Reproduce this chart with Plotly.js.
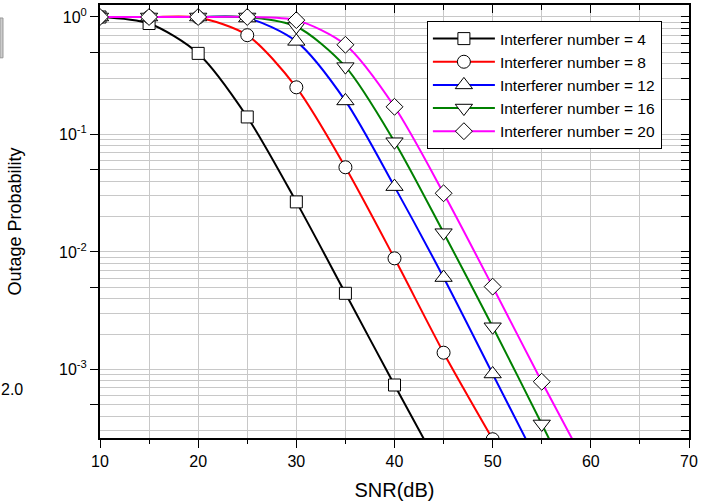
<!DOCTYPE html>
<html>
<head>
<meta charset="utf-8">
<script src="https://cdn.plot.ly/plotly-3.0.1.min.js"></script>
<style>html,body{margin:0;padding:0;background:#fff;}#chart{width:710px;height:503px;}</style>
</head>
<body>
<div id="chart"></div>
<script>
// SNR (dB) sample points (markers every 5 dB)
const snr = [10, 15, 20, 25, 30, 35, 40, 45, 50, 55, 60];

// Outage probability (last value of a series lies just below the visible axis)
const n4  = [1.0, 0.88, 0.49, 0.141, 0.0267, 0.00445, 7.38e-4, 1.26e-4];
const n8  = [1.0, 1.0, 0.99, 0.70, 0.252, 0.0526, 0.00883, 0.00139, 2.55e-4];
const n12 = [1.0, 1.0, 1.0, 0.98, 0.62, 0.193, 0.036, 0.00606, 9.16e-4, 1.39e-4];
const n16 = [1.0, 1.0, 1.0, 1.0, 0.83, 0.378, 0.0868, 0.0146, 0.00231, 3.44e-4, 4.9e-5];
const n20 = [1.0, 1.0, 1.0, 1.0, 0.94, 0.58, 0.172, 0.0316, 0.00507, 7.87e-4, 1.29e-4];

const seriesNames = ['Interferer number = 4', 'Interferer number = 8', 'Interferer number = 12',
                     'Interferer number = 16', 'Interferer number = 20'];
const seriesColors = ['#000000', '#ff0000', '#0000ff', '#008000', '#ff00ff'];
const seriesSymbols = ['square', 'circle', 'triangle-up', 'triangle-down', 'diamond'];
const seriesSizes = [12, 13, 15, 15, 13];
const seriesData = [n4, n8, n12, n16, n20];

// axis tick labels
const xTickVals = [10, 20, 30, 40, 50, 60, 70];
const yMajorVals = [5e-4, 1e-3, 5e-3, 1e-2, 5e-2, 1e-1, 5e-1, 1];
const yMajorText = ['', '10<sup>-3</sup>', '', '10<sup>-2</sup>', '', '10<sup>-1</sup>', '', '10<sup>0</sup>'];
const yMinorVals = [3e-4, 4e-4, 6e-4, 7e-4, 8e-4, 9e-4,
  2e-3, 3e-3, 4e-3, 6e-3, 7e-3, 8e-3, 9e-3,
  2e-2, 3e-2, 4e-2, 6e-2, 7e-2, 8e-2, 9e-2,
  2e-1, 3e-1, 4e-1, 6e-1, 7e-1, 8e-1, 9e-1];
const yRightVals = yMajorVals.concat(yMinorVals);

const FONT = 'Liberation Sans, Arial, sans-serif';
const yRange = [-3.583, 0.102];

const traces = seriesData.map((vals, i) => ({
  x: snr.slice(0, vals.length),
  y: vals,
  name: seriesNames[i],
  type: 'scatter',
  mode: 'lines+markers',
  line: {color: seriesColors[i], width: 2, shape: 'spline', smoothing: 0.8},
  marker: {symbol: seriesSymbols[i], size: seriesSizes[i], color: '#ffffff',
           line: {color: '#000000', width: 1}}
}));

traces.push({x: [], y: [], xaxis: 'x2', yaxis: 'y2', showlegend: false, hoverinfo: 'skip', type: 'scatter', mode: 'markers'});

const layout = {
  width: 710, height: 503,
  margin: {l: 100, r: 21, t: 5, b: 65},
  paper_bgcolor: '#ffffff', plot_bgcolor: '#ffffff',
  font: {family: FONT, size: 16, color: '#000'},
  showlegend: true,
  legend: {
    x: 0.555, y: 0.963, xanchor: 'left', yanchor: 'top',
    bgcolor: '#ffffff', bordercolor: '#000000', borderwidth: 1,
    font: {family: FONT, size: 15.5, color: '#000'},
    itemwidth: 62, tracegroupgap: 0
  },
  xaxis: {
    range: [10, 70], tickmode: 'array', tickvals: xTickVals,
    ticks: 'outside', ticklen: 8, tickwidth: 1, tickcolor: '#000',
    showline: true, linecolor: '#000', linewidth: 2, mirror: true,
    showgrid: true, gridcolor: '#c8c8c8', gridwidth: 1, zeroline: false,
    minor: {dtick: 5, tick0: 10, ticks: 'outside', ticklen: 4, tickcolor: '#000', showgrid: true, gridcolor: '#c8c8c8', gridwidth: 1},
    tickfont: {family: FONT, size: 16},
    title: {text: 'SNR(dB)', font: {family: FONT, size: 20}, standoff: 14}
  },
  yaxis: {
    type: 'log', range: yRange, tickmode: 'array', tickvals: yMajorVals, ticktext: yMajorText,
    ticks: 'outside', ticklen: 8, tickwidth: 1, tickcolor: '#000',
    showline: true, linecolor: '#000', linewidth: 2, mirror: true,
    showgrid: true, gridcolor: '#c8c8c8', gridwidth: 1, zeroline: false,
    minor: {tickmode: 'array', tickvals: yMinorVals, ticks: '', showgrid: true, gridcolor: '#c8c8c8', gridwidth: 1},
    tickfont: {family: FONT, size: 16},
    title: {text: 'Outage Probability', font: {family: FONT, size: 18}, standoff: 33}
  },
  xaxis2: {
    overlaying: 'x', side: 'top', range: [10, 70], tickmode: 'array', tickvals: xTickVals,
    ticks: 'inside', ticklen: 8, tickcolor: '#000', showticklabels: false, showgrid: false,
    showline: false, zeroline: false,
    minor: {dtick: 5, tick0: 10, ticks: 'inside', ticklen: 5, tickcolor: '#000', showgrid: false}
  },
  yaxis2: {
    overlaying: 'y', side: 'right', type: 'log', range: yRange, tickmode: 'array', tickvals: yRightVals,
    ticks: 'inside', ticklen: 8, tickcolor: '#000', showticklabels: false, showgrid: false,
    showline: false, zeroline: false
  },
  annotations: [{
    xref: 'paper', yref: 'paper', x: -0.149, y: 0.111, xanchor: 'center', yanchor: 'middle',
    text: '2.0', showarrow: false, font: {family: FONT, size: 16, color: '#000'}
  }],
  shapes: [{
    type: 'rect', xref: 'paper', yref: 'paper', x0: -0.1698, x1: -0.1647, y0: 0.878, y1: 0.970,
    line: {color: '#999999', width: 1}, fillcolor: '#cccccc', layer: 'above'
  }]
};

Plotly.newPlot('chart', traces, layout, {staticPlot: true, displayModeBar: false});
</script>
</body>
</html>
